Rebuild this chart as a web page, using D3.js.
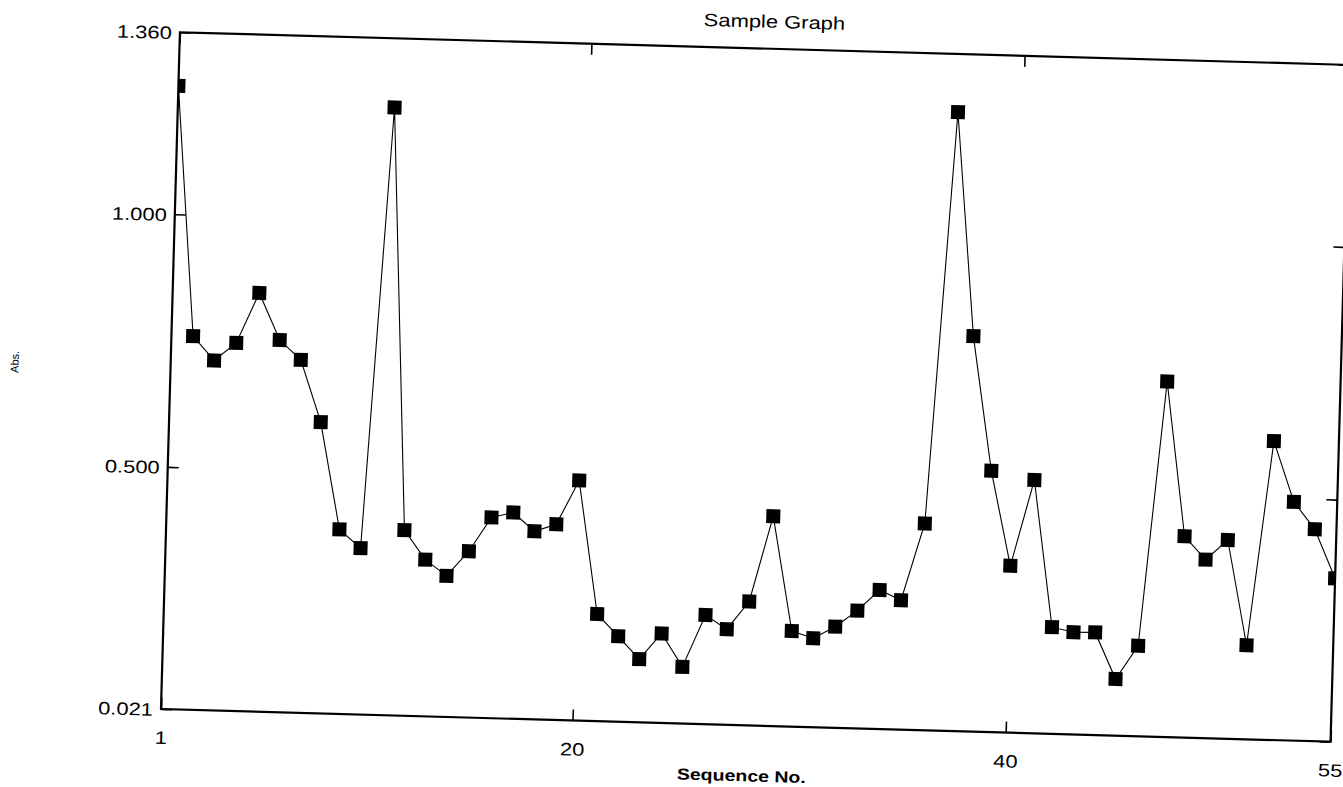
<!DOCTYPE html>
<html>
<head>
<meta charset="utf-8">
<script src="https://cdn.jsdelivr.net/npm/d3@7"></script>
<style>
  body { margin: 0; background: #fff; }
  text { font-family: "Liberation Sans", Arial, sans-serif; fill: #000; }
</style>
</head>
<body>
<div id="chart"></div>
<script>
// chart values
var seqNo = d3.range(1, 56);
var absValues = [
  1.254, 0.760, 0.713, 0.749, 0.849, 0.757, 0.719, 0.597, 0.386, 0.350,
  1.223, 0.388, 0.331, 0.300, 0.350, 0.418, 0.429, 0.393, 0.408, 0.496,
  0.233, 0.190, 0.146, 0.198, 0.133, 0.237, 0.210, 0.266, 0.436, 0.210,
  0.197, 0.221, 0.254, 0.296, 0.277, 0.430, 1.245, 0.803, 0.538, 0.351,
  0.522, 0.232, 0.223, 0.224, 0.133, 0.200, 0.724, 0.419, 0.374, 0.414,
  0.207, 0.612, 0.493, 0.440, 0.344
];
var xTicks = [1, 20, 40, 55];
var yTicks = [0.021, 0.500, 1.000, 1.360];
var chartTitle = "Sample Graph";
var xTitle = "Sequence No.";
var yTitle = "Abs.";

// SVG parameters
var svgWidth = 1343;
var svgHeight = 787;

// plot frame (before the scan tilt)
var margin = { top: 32, left: 161 };
var width = 1170;
var height = 677;

// the scanned page is tilted and stretched sideways a bit
var tilt = 1.6;
var stretch = 1.22;

var svg = d3.select("#chart")
  .append("svg")
  .attr("width", svgWidth)
  .attr("height", svgHeight);

var page = svg.append("g")
  .attr("transform", `rotate(${tilt}, ${margin.left}, ${margin.top + height})`);

var chartGroup = page.append("g")
  .attr("transform", `translate(${margin.left}, ${margin.top})`);

// scales
var xScale = d3.scaleLinear()
  .domain([1, 55])
  .range([0, width]);
var yScale = d3.scaleLinear()
  .domain([0.021, 1.360])
  .range([height, 0]);

// clip so the end markers are cut by the frame
chartGroup.append("clipPath")
  .attr("id", "plot-clip")
  .append("rect")
  .attr("width", width)
  .attr("height", height);

// axes, ticks point inward
var bottomAxis = d3.axisBottom(xScale).tickValues(xTicks).tickSize(-11).tickFormat(d3.format("d"));
var topAxis = d3.axisTop(xScale).tickValues(xTicks).tickSize(-11).tickFormat("");
var leftAxis = d3.axisLeft(yScale).tickValues(yTicks).tickSize(-11).tickFormat(d3.format(".3f"));
var rightAxis = d3.axisRight(yScale).tickValues(yTicks).tickSize(-11).tickFormat("");

var xAxisG = chartGroup.append("g")
  .attr("transform", `translate(0, ${height})`)
  .call(bottomAxis);
chartGroup.append("g").call(topAxis);
var yAxisG = chartGroup.append("g").call(leftAxis);
chartGroup.append("g")
  .attr("transform", `translate(${width}, 0)`)
  .call(rightAxis);

chartGroup.selectAll(".domain").remove();
chartGroup.selectAll(".tick line")
  .attr("stroke", "#000")
  .attr("stroke-width", 1.6);

xAxisG.selectAll("text")
  .attr("font-size", 18)
  .attr("y", 0)
  .attr("dy", null)
  .attr("transform", `translate(0, 35) scale(${stretch}, 1)`);
yAxisG.selectAll("text")
  .attr("font-size", 18)
  .attr("x", 0)
  .attr("dy", "0.36em")
  .attr("transform", `translate(-8, 0) scale(${stretch}, 1)`);

// frame
chartGroup.append("rect")
  .attr("width", width)
  .attr("height", height)
  .attr("fill", "none")
  .attr("stroke", "#000")
  .attr("stroke-width", 2.2);

// series line and square markers
var series = chartGroup.append("g").attr("clip-path", "url(#plot-clip)");
var line = d3.line()
  .x((d, i) => xScale(seqNo[i]))
  .y(d => yScale(d));

series.append("path")
  .datum(absValues)
  .attr("d", line)
  .attr("fill", "none")
  .attr("stroke", "#000")
  .attr("stroke-width", 1.1);

var markerSize = 14;
series.selectAll("rect.marker")
  .data(absValues)
  .enter()
  .append("rect")
  .attr("class", "marker")
  .attr("x", (d, i) => xScale(seqNo[i]) - markerSize / 2)
  .attr("y", d => yScale(d) - markerSize / 2)
  .attr("width", markerSize)
  .attr("height", markerSize)
  .attr("fill", "#000");

// titles
page.append("text")
  .attr("transform", `translate(${margin.left + 594}, ${margin.top - 21}) scale(${stretch}, 1)`)
  .attr("text-anchor", "middle")
  .attr("font-size", 18)
  .text(chartTitle);

page.append("text")
  .attr("transform", `translate(${margin.left + 582}, ${margin.top + height + 56}) scale(${stretch}, 1)`)
  .attr("text-anchor", "middle")
  .attr("font-size", 16)
  .attr("font-weight", "bold")
  .text(xTitle);

page.append("text")
  .attr("transform", `translate(9, ${margin.top + 334}) rotate(-90)`)
  .attr("text-anchor", "middle")
  .attr("font-size", 11)
  .attr("fill", "#444")
  .text(yTitle);
</script>
</body>
</html>
